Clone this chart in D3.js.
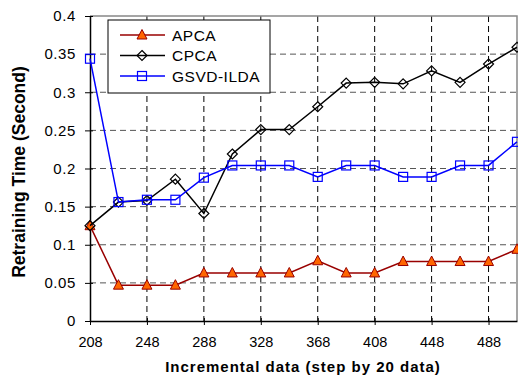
<!DOCTYPE html>
<html>
<head>
<meta charset="utf-8">
<script src="https://cdn.jsdelivr.net/npm/d3@7"></script>
<style>
  body { margin: 0; background: #fff; }
  svg { display: block; font-family: Arial, "Liberation Sans", sans-serif; }
</style>
</head>
<body>
<svg id="chart" width="518" height="376"></svg>
<script>
const xValues = [208, 228, 248, 268, 288, 308, 328, 348, 368, 388, 408, 428, 448, 468, 488, 508];
const xTicks = [208, 248, 288, 328, 368, 408, 448, 488];
const yTicks = [0, 0.05, 0.1, 0.15, 0.2, 0.25, 0.3, 0.35, 0.4];
const seriesNames = ["APCA", "CPCA", "GSVD-ILDA"];
const apca = [0.125, 0.047, 0.047, 0.047, 0.063, 0.063, 0.063, 0.063, 0.079, 0.063, 0.063, 0.078, 0.078, 0.078, 0.078, 0.094];
const cpca = [0.125, 0.156, 0.158, 0.186, 0.141, 0.219, 0.251, 0.251, 0.281, 0.312, 0.313, 0.311, 0.328, 0.313, 0.337, 0.359];
const gsvd = [0.344, 0.156, 0.159, 0.159, 0.188, 0.204, 0.204, 0.204, 0.189, 0.204, 0.204, 0.189, 0.189, 0.204, 0.204, 0.235];

const margin = { left: 90, top: 16, right: 1, bottom: 55 };
const width = 518, height = 376;
const chartWidth = width - margin.left - margin.right;
const chartHeight = height - margin.top - margin.bottom;

const xScale = d3.scaleLinear().domain([208, 508]).range([0, chartWidth]);
const yScale = d3.scaleLinear().domain([0, 0.4]).range([chartHeight, 0]);

const svg = d3.select("#chart");
const g = svg.append("g").attr("transform", `translate(${margin.left}, ${margin.top})`);

// grid lines
g.selectAll(".hgrid")
  .data(yTicks.filter(d => d > 0 && d < 0.4))
  .enter().append("line")
  .attr("x1", 0).attr("x2", chartWidth)
  .attr("y1", d => yScale(d)).attr("y2", d => yScale(d))
  .style("stroke", "#555").style("stroke-dasharray", "6,4");

g.selectAll(".vgrid")
  .data(xTicks.filter(d => d > 208))
  .enter().append("line")
  .attr("x1", d => xScale(d)).attr("x2", d => xScale(d))
  .attr("y1", 0).attr("y2", chartHeight)
  .style("stroke", "#000").style("stroke-dasharray", "6,4");

// frame top/right
g.append("path")
  .attr("d", `M0,0H${chartWidth}V${chartHeight}`)
  .style("fill", "none").style("stroke", "#888").style("stroke-width", 1.5);

// axes
const xAxis = d3.axisBottom(xScale).tickValues(xTicks).tickSize(5).tickSizeOuter(0).tickFormat(d3.format("d"));
const yAxis = d3.axisLeft(yScale).tickValues(yTicks).tickSize(5).tickSizeOuter(0).tickFormat(d => d === 0 ? "0" : String(+d.toFixed(2)));

const gx = g.append("g").attr("transform", `translate(0, ${chartHeight})`).call(xAxis);
gx.select(".domain").style("stroke", "#000").style("stroke-width", 1.5);
gx.selectAll(".tick line").attr("y1", -3).attr("y2", 4);
gx.selectAll("text").style("font-size", "14.5px").attr("y", 26).attr("dy", null).style("fill", "#000");

const gy = g.append("g").call(yAxis);
gy.select(".domain").style("stroke", "#000").style("stroke-width", 1.5);
gy.selectAll(".tick line").attr("x1", -5).attr("x2", 3);
gy.selectAll("text").style("font-size", "15px").style("letter-spacing", "0.6px")
  .attr("x", -14).style("fill", "#000");

// axis titles
svg.append("text")
  .attr("x", 303).attr("y", 372)
  .attr("text-anchor", "middle")
  .style("font-size", "15px").style("font-weight", "bold")
  .style("letter-spacing", "1px")
  .text("Incremental data (step by 20 data)");

svg.append("text")
  .attr("transform", `translate(25, 172) rotate(-90)`)
  .attr("text-anchor", "middle")
  .style("font-size", "17.5px").style("font-weight", "bold")
  .text("Retraining Time  (Second)");

// series
const series = [
  { name: seriesNames[0], values: apca, color: "#990000", marker: "triangle" },
  { name: seriesNames[1], values: cpca, color: "#000000", marker: "diamond" },
  { name: seriesNames[2], values: gsvd, color: "#0000ff", marker: "square" }
];

const lineGenerator = d3.line()
  .x((d, i) => xScale(xValues[i]))
  .y(d => yScale(d));

function drawMarker(sel, type) {
  if (type === "triangle") {
    sel.append("path").attr("d", "M0,-5.5L5,4L-5,4Z")
      .style("fill", "#ff6600").style("stroke", "#990000").style("stroke-width", 1);
  } else if (type === "diamond") {
    sel.append("path").attr("d", "M0,-5L5,0L0,5L-5,0Z")
      .style("fill", "none").style("stroke", "#000").style("stroke-width", 1.2);
  } else {
    sel.append("rect").attr("x", -4.5).attr("y", -4.5).attr("width", 9).attr("height", 9)
      .style("fill", "none").style("stroke", "#0000ff").style("stroke-width", 1.2);
  }
}

series.forEach(s => {
  g.append("path")
    .attr("d", lineGenerator(s.values))
    .style("fill", "none").style("stroke", s.color).style("stroke-width", 1.5);
  s.values.forEach((v, i) => {
    const m = g.append("g").attr("transform", `translate(${xScale(xValues[i])}, ${yScale(v)})`);
    drawMarker(m, s.marker);
  });
});

// legend
const legend = svg.append("g").attr("transform", "translate(108, 20)");
legend.append("rect").attr("width", 162).attr("height", 73)
  .style("fill", "#fff").style("stroke", "#000").style("stroke-width", 1);
series.forEach((s, i) => {
  const row = legend.append("g").attr("transform", `translate(0, ${15 + i * 20.5})`);
  row.append("line").attr("x1", 12).attr("x2", 57).style("stroke", s.color).style("stroke-width", 1.5);
  const m = row.append("g").attr("transform", "translate(34, 0)");
  drawMarker(m, s.marker);
  row.append("text").attr("x", 64).attr("dy", "0.36em")
    .style("font-size", "15.5px").style("letter-spacing", "0.5px").text(s.name);
});
</script>
</body>
</html>
